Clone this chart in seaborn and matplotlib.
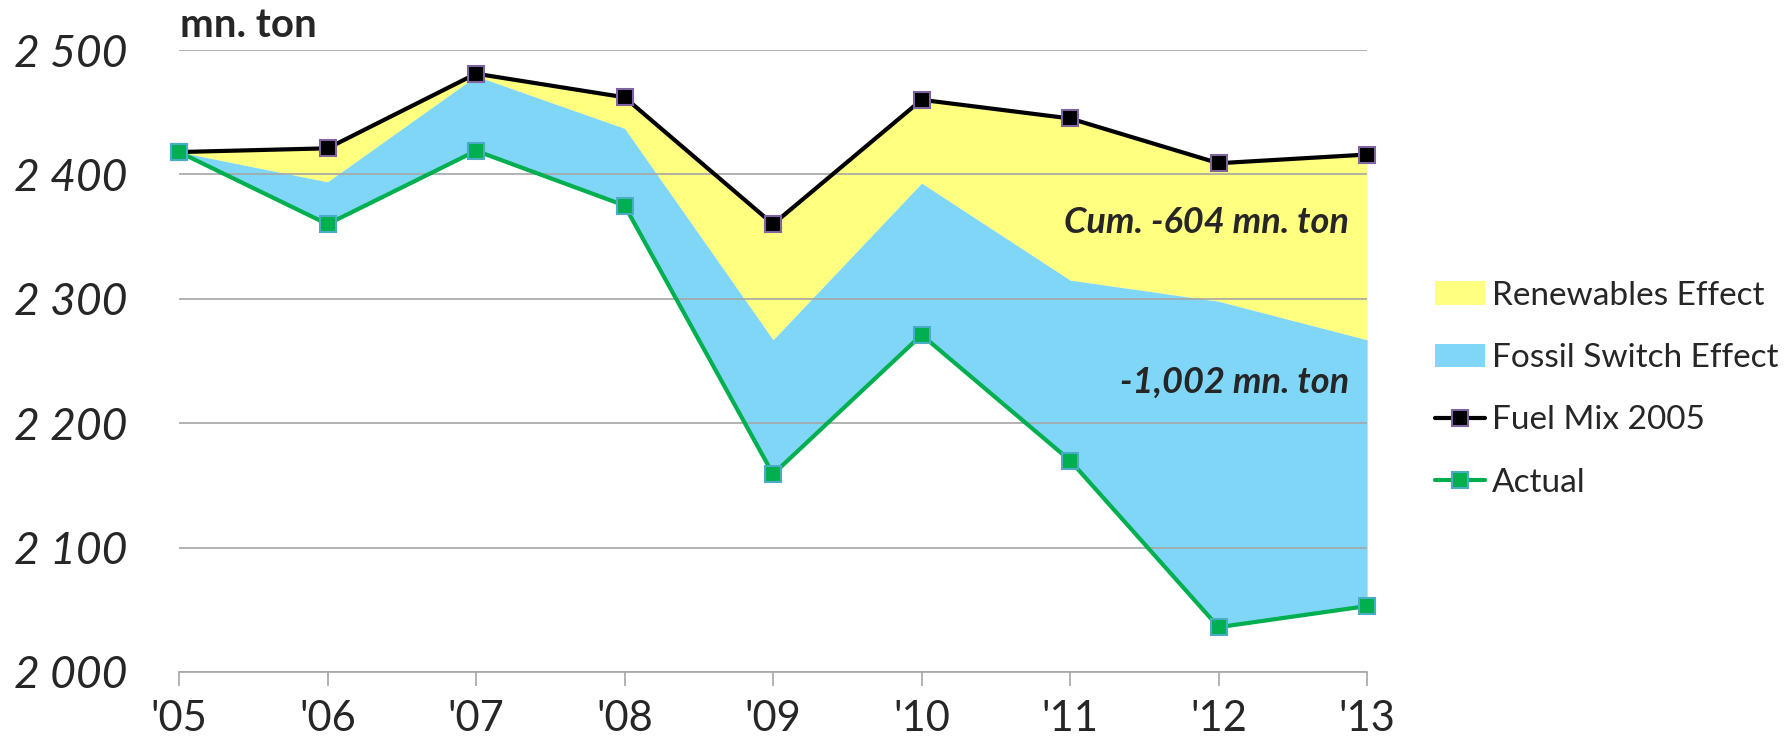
import numpy as np
import pandas as pd
import matplotlib.pyplot as plt
import seaborn as sns
from matplotlib.patches import Patch
from matplotlib.lines import Line2D

# values (mn. ton)
years = ["'05", "'06", "'07", "'08", "'09", "'10", "'11", "'12", "'13"]
fuel_mix_2005 = [2418, 2421, 2481, 2462, 2360, 2460, 2445, 2409, 2416]
renewables_effect = [0, 27, 2, 25, 93, 67, 130, 111, 149]
actual = [2418, 2360, 2419, 2375, 2159, 2271, 2170, 2036, 2053]
y_ticks = [2000, 2100, 2200, 2300, 2400, 2500]
y_tick_labels = ["2 000", "2 100", "2 200", "2 300", "2 400", "2 500"]

YELLOW = '#FFFF80'
BLUE = '#80D6F7'
GREEN = '#00B050'
GRID = '#A6A6A6'

sns.set_theme(style='white')
plt.rcParams['font.family'] = ['Lato', 'DejaVu Sans']

df = pd.DataFrame({
    'x': np.arange(len(years)),
    'fuel_mix': fuel_mix_2005,
    'actual': actual,
})
df['after_renewables'] = df['fuel_mix'] - np.array(renewables_effect)

fig = plt.figure(figsize=(17.85, 7.36), dpi=100)
ax = fig.add_axes([0.1003, 0.087, 0.6656, 0.845])

# areas
ax.fill_between(df['x'], df['after_renewables'], df['fuel_mix'],
                color=YELLOW, linewidth=0, zorder=0.5)
ax.fill_between(df['x'], df['actual'], df['after_renewables'],
                color=BLUE, linewidth=0, zorder=0.5)

# lines
sns.lineplot(data=df, x='x', y='fuel_mix', ax=ax, color='black', linewidth=3,
             marker='s', markersize=11, markerfacecolor='black',
             markeredgecolor='#8064A2', markeredgewidth=1.5, clip_on=False, zorder=3)
sns.lineplot(data=df, x='x', y='actual', ax=ax, color=GREEN, linewidth=3,
             marker='s', markersize=11, markerfacecolor=GREEN,
             markeredgecolor='#4BACC6', markeredgewidth=1.5, clip_on=False, zorder=3)

ax.set_xlim(0, len(years) - 1)
ax.set_ylim(2000, 2500)
ax.set_xticks(df['x'])
ax.set_xticklabels(years, fontsize=30)
ax.set_yticks(y_ticks)
ax.set_yticklabels(y_tick_labels, fontsize=32, fontstyle='italic')
ax.set_xlabel('')
ax.set_ylabel('')

ax.set_axisbelow('line')
ax.grid(axis='y', color=GRID, linewidth=1.2)
ax.grid(axis='x', visible=False)
for side in ['left', 'right', 'top']:
    ax.spines[side].set_visible(False)
ax.spines['bottom'].set_color(GRID)
ax.spines['bottom'].set_linewidth(1.2)
ax.tick_params(axis='x', which='major', bottom=True, length=10, width=1.2,
               color=GRID, pad=10)
ax.tick_params(axis='y', length=0, pad=119)
for lab in ax.get_yticklabels():
    lab.set_horizontalalignment('left')

ax.text(0.985, 0.722, 'Cum. -604 mn. ton', transform=ax.transAxes,
        ha='right', va='center', fontsize=26, fontweight='bold', fontstyle='italic')
ax.text(0.985, 0.466, '-1,002 mn. ton', transform=ax.transAxes,
        ha='right', va='center', fontsize=26, fontweight='bold', fontstyle='italic')
fig.text(0.1008, 0.966, 'mn. ton', ha='left', va='center',
         fontsize=29, fontweight='bold')

handles = [
    Patch(facecolor=YELLOW, edgecolor='none', label='Renewables Effect'),
    Patch(facecolor=BLUE, edgecolor='none', label='Fossil Switch Effect'),
    Line2D([], [], color='black', linewidth=3, marker='s', markersize=11,
           markerfacecolor='black', markeredgecolor='#8064A2',
           markeredgewidth=1.5, label='Fuel Mix 2005'),
    Line2D([], [], color=GREEN, linewidth=3, marker='s', markersize=11,
           markerfacecolor=GREEN, markeredgecolor='#4BACC6',
           markeredgewidth=1.5, label='Actual'),
]
fig.legend(handles=handles, loc='upper left', bbox_to_anchor=(0.7966, 0.637),
           frameon=False, fontsize=24, handlelength=1.5, handletextpad=0.2,
           labelspacing=0.97, borderaxespad=0)

fig.savefig('out.png', dpi=100)
